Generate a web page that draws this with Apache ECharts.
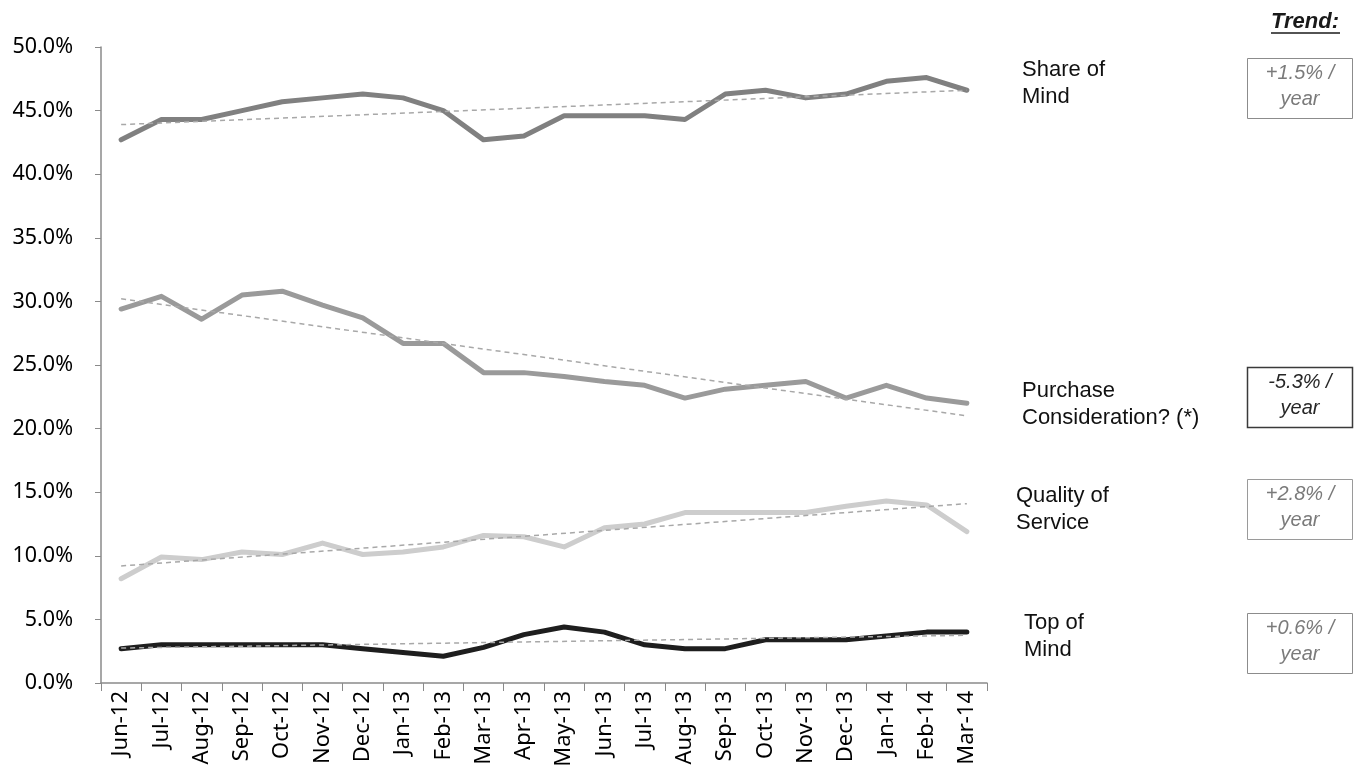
<!DOCTYPE html>
<html>
<head>
<meta charset="utf-8">
<title>Brand tracking trends</title>
<script src="https://cdn.jsdelivr.net/npm/echarts@6/dist/echarts.min.js"></script>
<style>
  html, body { margin: 0; padding: 0; background: #ffffff; }
  #chart { width: 1355px; height: 776px; }
</style>
</head>
<body>
<div id="chart"></div>
<script>
// Monthly survey waves
const months = ['Jun-12','Jul-12','Aug-12','Sep-12','Oct-12','Nov-12','Dec-12','Jan-13','Feb-13','Mar-13','Apr-13',
                'May-13','Jun-13','Jul-13','Aug-13','Sep-13','Oct-13','Nov-13','Dec-13','Jan-14','Feb-14','Mar-14'];

// Measures (%)
const shareOfMind = [42.7,44.3,44.3,45.0,45.7,46.0,46.3,46.0,45.0,42.7,43.0,44.6,44.6,44.6,44.3,46.3,46.6,46.0,46.3,47.3,47.6,46.6];
const purchaseConsideration = [29.4,30.4,28.6,30.5,30.8,29.7,28.7,26.7,26.7,24.4,24.4,24.1,23.7,23.4,22.4,23.1,23.4,23.7,22.4,23.4,22.4,22.0];
const qualityOfService = [8.2,9.9,9.7,10.3,10.1,11.0,10.1,10.3,10.7,11.6,11.5,10.7,12.2,12.5,13.4,13.4,13.4,13.4,13.9,14.3,14.0,11.9];
const topOfMind = [2.7,3.0,3.0,3.0,3.0,3.0,2.7,2.4,2.1,2.8,3.8,4.4,4.0,3.0,2.7,2.7,3.4,3.4,3.4,3.7,4.0,4.0];

// Linear trend lines: value at first and last wave
const trendShareOfMind = [43.9, 46.6];
const trendPurchase = [30.2, 21.0];
const trendQuality = [9.2, 14.1];
const trendTopOfMind = [2.75, 3.75];

// Side labels and yearly trend figures
const seriesLabels = ['Share of\nMind', 'Purchase\nConsideration? (*)', 'Quality of\nService', 'Top of\nMind'];
const trendLabels = ['+1.5% /\nyear', '-5.3% /\nyear', '+2.8% /\nyear', '+0.6% /\nyear'];

// Y axis ticks
const yMin = 0, yMax = 50, yStep = 5;

const chart = echarts.init(document.getElementById('chart'), null, { renderer: 'canvas' });

const axisGray = '#8a8a8a';
const trendColor = '#a8a8a8';

function mainLine(name, data, color, z) {
  return {
    name, type: 'line', data, showSymbol: false, symbol: 'none', z,
    lineStyle: { color, width: 5, cap: 'round', join: 'round' },
    silent: true, animation: false
  };
}
function trendLine(name, ends) {
  return {
    name, type: 'line', showSymbol: false, symbol: 'none', z: 10,
    data: [[months[0], ends[0]], [months[months.length - 1], ends[1]]],
    lineStyle: { color: trendColor, width: 1.5, type: [5, 4] },
    silent: true, animation: false
  };
}

const labelFont = '22px "Liberation Sans", Arial, sans-serif';
const labelTops = [56, 377, 482, 609];
const labelXs = [1022, 1022, 1016, 1024];
const boxTops = [58, 367, 479, 613];
const boxStroke = ['#8c8c8c', '#3a3a3a', '#9a9a9a', '#8c8c8c'];
const boxText = ['#7a7a7a', '#262626', '#7a7a7a', '#7a7a7a'];

const graphics = [
  {
    type: 'text', x: 1305, y: 22,
    style: { text: 'Trend:', font: 'italic bold 22px "Liberation Sans", Arial, sans-serif',
             fill: '#1a1a1a', align: 'center', verticalAlign: 'middle' }
  },
  {
    type: 'line', shape: { x1: 1271, y1: 33, x2: 1340, y2: 33 },
    style: { stroke: '#1a1a1a', lineWidth: 1.5 }
  }
];
seriesLabels.forEach((t, i) => {
  graphics.push({
    type: 'text', x: labelXs[i], y: labelTops[i],
    style: { text: t, font: labelFont, fill: '#111111', lineHeight: 27,
             align: 'left', verticalAlign: 'top' }
  });
  graphics.push({
    type: 'rect', shape: { x: 1247.5, y: boxTops[i] + 0.5, width: 105, height: 60 },
    style: { fill: '#ffffff', stroke: boxStroke[i], lineWidth: i === 1 ? 1.5 : 1 }
  });
  graphics.push({
    type: 'text', x: 1300, y: boxTops[i] + 28,
    style: { text: trendLabels[i], font: 'italic 20px "Liberation Sans", Arial, sans-serif',
             fill: boxText[i], lineHeight: 26, align: 'center', verticalAlign: 'middle' }
  });
});

chart.setOption({
  backgroundColor: '#ffffff',
  animation: false,
  grid: { left: 101, top: 47, width: 886, height: 636, containLabel: false },
  xAxis: {
    type: 'category',
    data: months,
    boundaryGap: true,
    axisLine: { lineStyle: { color: axisGray, width: 1.5 } },
    axisTick: { show: true, interval: 0, length: 8, lineStyle: { color: axisGray, width: 1 } },
    axisLabel: {
      interval: 0, rotate: 90, margin: 8,
      fontFamily: '"Noto Sans", sans-serif', fontSize: 22, color: '#000000'
    },
    splitLine: { show: false }
  },
  yAxis: {
    type: 'value',
    min: yMin, max: yMax, interval: yStep,
    axisLine: { show: true, lineStyle: { color: axisGray, width: 1.5 } },
    axisTick: { show: true, length: 6, lineStyle: { color: axisGray, width: 1 } },
    axisLabel: {
      margin: 28,
      formatter: v => v.toFixed(1) + '%',
      fontFamily: '"Noto Sans", sans-serif', fontSize: 21.5, color: '#000000'
    },
    splitLine: { show: false }
  },
  series: [
    mainLine('Share of Mind', shareOfMind, '#808080', 4),
    mainLine('Purchase Consideration? (*)', purchaseConsideration, '#9a9a9a', 3),
    mainLine('Quality of Service', qualityOfService, '#cdcdcd', 2),
    mainLine('Top of Mind', topOfMind, '#1e1e1e', 5),
    trendLine('Share of Mind trend', trendShareOfMind),
    trendLine('Purchase Consideration trend', trendPurchase),
    trendLine('Quality of Service trend', trendQuality),
    trendLine('Top of Mind trend', trendTopOfMind)
  ],
  graphic: graphics
});
</script>
</body>
</html>
